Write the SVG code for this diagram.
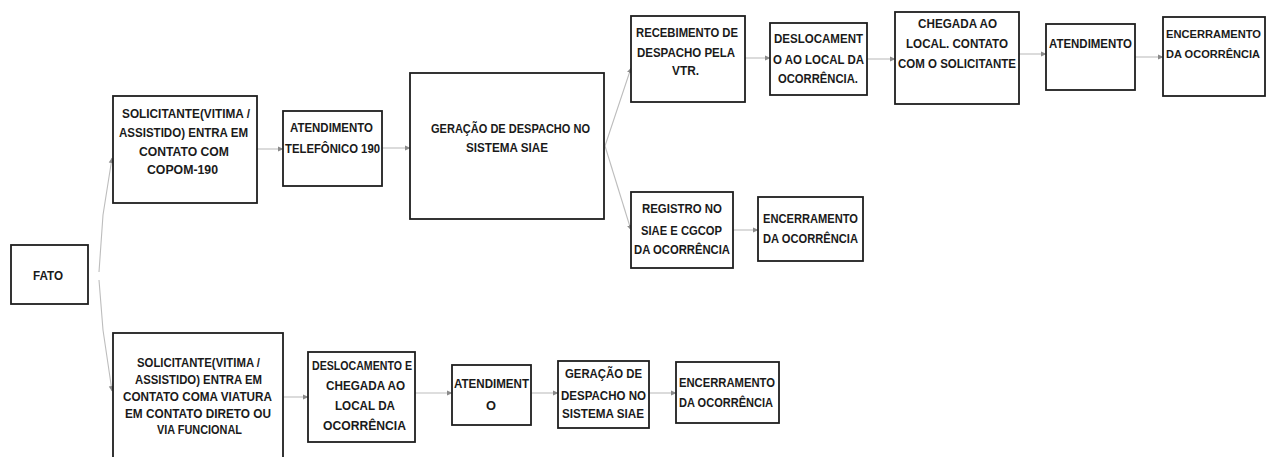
<svg xmlns="http://www.w3.org/2000/svg" width="1275" height="457" viewBox="0 0 1275 457">
<defs>
<marker id="ah" markerWidth="6" markerHeight="6" refX="5" refY="3" orient="auto" markerUnits="userSpaceOnUse">
<path d="M0,0.5 L5.5,3 L0,5.5 Z" fill="#8a8a8a"/>
</marker>
<style>
.box{fill:#fff;stroke:#1e1e1e;stroke-width:1.8}
.t{font-family:"Liberation Sans Narrow","Liberation Sans",Arial,sans-serif;font-size:13.5px;font-weight:bold;fill:#1a1a1a;text-anchor:start}
.s{font-size:11.2px}
.c{fill:none;stroke:#bdbdbd;stroke-width:1.1;marker-end:url(#ah)}
</style>
</defs>
<rect width="1275" height="457" fill="#fff"/>
<g id="connectors">
<path class="c" d="M99,272 L103,215 L112,158"/>
<path class="c" d="M99,280 L103,330 L112,391"/>
<path class="c" d="M257,149 L283,149"/>
<path class="c" d="M382,148 L410,148"/>
<path class="c" d="M605,146 L631,68"/>
<path class="c" d="M605,146 L631,230"/>
<path class="c" d="M745,58 L770,58"/>
<path class="c" d="M867,59 L895,59"/>
<path class="c" d="M1019,54 L1046,54"/>
<path class="c" d="M1135,57 L1163,57"/>
<path class="c" d="M733,230 L758,230"/>
<path class="c" d="M283,397 L308,397"/>
<path class="c" d="M415,393 L452,393"/>
<path class="c" d="M531,393 L558,393"/>
<path class="c" d="M649,393 L676,393"/>
</g>
<g id="fato">
<rect class="box" x="11" y="245" width="77" height="59"/>
<text class="t" x="33" y="280" textLength="30" lengthAdjust="spacingAndGlyphs">FATO</text>
</g>
<g id="solicitante-copom">
<rect class="box" x="113" y="96" width="144" height="107"/>
<text class="t" x="122" y="118" textLength="128" lengthAdjust="spacingAndGlyphs">SOLICITANTE(VITIMA /</text>
<text class="t" x="119" y="137" textLength="129" lengthAdjust="spacingAndGlyphs">ASSISTIDO) ENTRA EM</text>
<text class="t" x="139" y="156" textLength="90" lengthAdjust="spacingAndGlyphs">CONTATO COM</text>
<text class="t" x="147" y="174" textLength="71" lengthAdjust="spacingAndGlyphs">COPOM-190</text>
</g>
<g id="atendimento-190">
<rect class="box" x="283" y="111" width="99" height="75"/>
<text class="t" x="290" y="132" textLength="83" lengthAdjust="spacingAndGlyphs">ATENDIMENTO</text>
<text class="t" x="285" y="153" textLength="95" lengthAdjust="spacingAndGlyphs">TELEFÔNICO 190</text>
</g>
<g id="geracao-siae">
<rect class="box" x="410" y="73" width="194" height="146"/>
<text class="t" x="431" y="133" textLength="159" lengthAdjust="spacingAndGlyphs">GERAÇÃO DE DESPACHO NO</text>
<text class="t" x="466" y="152" textLength="82" lengthAdjust="spacingAndGlyphs">SISTEMA SIAE</text>
</g>
<g id="recebimento">
<rect class="box" x="631" y="16" width="114" height="86"/>
<text class="t" x="636" y="37" textLength="102" lengthAdjust="spacingAndGlyphs">RECEBIMENTO DE</text>
<text class="t" x="637" y="57" textLength="98" lengthAdjust="spacingAndGlyphs">DESPACHO PELA</text>
<text class="t" x="672" y="75" textLength="27" lengthAdjust="spacingAndGlyphs">VTR.</text>
</g>
<g id="deslocamento">
<rect class="box" x="770" y="23" width="97" height="72"/>
<text class="t" x="774" y="43" textLength="89" lengthAdjust="spacingAndGlyphs">DESLOCAMENT</text>
<text class="t" x="773" y="64" textLength="91" lengthAdjust="spacingAndGlyphs">O AO LOCAL DA</text>
<text class="t" x="778" y="83" textLength="80" lengthAdjust="spacingAndGlyphs">OCORRÊNCIA.</text>
</g>
<g id="chegada">
<rect class="box" x="895" y="12" width="124" height="92"/>
<text class="t" x="918" y="28" textLength="79" lengthAdjust="spacingAndGlyphs">CHEGADA AO</text>
<text class="t" x="906" y="48" textLength="102" lengthAdjust="spacingAndGlyphs">LOCAL. CONTATO</text>
<text class="t" x="898" y="68" textLength="118" lengthAdjust="spacingAndGlyphs">COM O SOLICITANTE</text>
</g>
<g id="atendimento-top">
<rect class="box" x="1046" y="24" width="89" height="66"/>
<text class="t" x="1049" y="48" textLength="83" lengthAdjust="spacingAndGlyphs">ATENDIMENTO</text>
</g>
<g id="encerramento-top">
<rect class="box" x="1163" y="17" width="102" height="79"/>
<text class="t s" x="1166" y="38" textLength="95" lengthAdjust="spacingAndGlyphs">ENCERRAMENTO</text>
<text class="t s" x="1166" y="58" textLength="94" lengthAdjust="spacingAndGlyphs">DA OCORRÊNCIA</text>
</g>
<g id="registro">
<rect class="box" x="631" y="192" width="102" height="76"/>
<text class="t" x="642" y="213" textLength="80" lengthAdjust="spacingAndGlyphs">REGISTRO NO</text>
<text class="t" x="641" y="235" textLength="81" lengthAdjust="spacingAndGlyphs">SIAE E CGCOP</text>
<text class="t" x="634" y="254" textLength="96" lengthAdjust="spacingAndGlyphs">DA OCORRÊNCIA</text>
</g>
<g id="encerramento-mid">
<rect class="box" x="758" y="197" width="105" height="64"/>
<text class="t" x="763" y="223" textLength="95" lengthAdjust="spacingAndGlyphs">ENCERRAMENTO</text>
<text class="t" x="763" y="243" textLength="95" lengthAdjust="spacingAndGlyphs">DA OCORRÊNCIA</text>
</g>
<g id="solicitante-viatura">
<rect class="box" x="113" y="333" width="170" height="135"/>
<text class="t" x="137" y="367" textLength="123" lengthAdjust="spacingAndGlyphs">SOLICITANTE(VITIMA /</text>
<text class="t" x="135" y="384" textLength="127" lengthAdjust="spacingAndGlyphs">ASSISTIDO) ENTRA EM</text>
<text class="t" x="123" y="401" textLength="149" lengthAdjust="spacingAndGlyphs">CONTATO COMA VIATURA</text>
<text class="t" x="125" y="418" textLength="146" lengthAdjust="spacingAndGlyphs">EM CONTATO DIRETO OU</text>
<text class="t" x="157" y="434" textLength="85" lengthAdjust="spacingAndGlyphs">VIA FUNCIONAL</text>
</g>
<g id="deslocamento-chegada">
<rect class="box" x="308" y="352" width="107" height="90"/>
<text class="t" x="312" y="370" textLength="100" lengthAdjust="spacingAndGlyphs">DESLOCAMENTO E</text>
<text class="t" x="326" y="390" textLength="79" lengthAdjust="spacingAndGlyphs">CHEGADA AO</text>
<text class="t" x="335" y="410" textLength="60" lengthAdjust="spacingAndGlyphs">LOCAL DA</text>
<text class="t" x="323" y="430" textLength="83" lengthAdjust="spacingAndGlyphs">OCORRÊNCIA</text>
</g>
<g id="atendimento-bottom">
<rect class="box" x="452" y="365" width="79" height="60"/>
<text class="t" x="454" y="388" textLength="75" lengthAdjust="spacingAndGlyphs">ATENDIMENT</text>
<text class="t" x="486" y="410" textLength="10" lengthAdjust="spacingAndGlyphs">O</text>
</g>
<g id="geracao-bottom">
<rect class="box" x="558" y="361" width="91" height="67"/>
<text class="t" x="565" y="378" textLength="77" lengthAdjust="spacingAndGlyphs">GERAÇÃO DE</text>
<text class="t" x="561" y="400" textLength="85" lengthAdjust="spacingAndGlyphs">DESPACHO NO</text>
<text class="t" x="562" y="418" textLength="82" lengthAdjust="spacingAndGlyphs">SISTEMA SIAE</text>
</g>
<g id="encerramento-bottom">
<rect class="box" x="676" y="362" width="103" height="61"/>
<text class="t" x="679" y="387" textLength="96" lengthAdjust="spacingAndGlyphs">ENCERRAMENTO</text>
<text class="t" x="679" y="407" textLength="94" lengthAdjust="spacingAndGlyphs">DA OCORRÊNCIA</text>
</g>
</svg>
